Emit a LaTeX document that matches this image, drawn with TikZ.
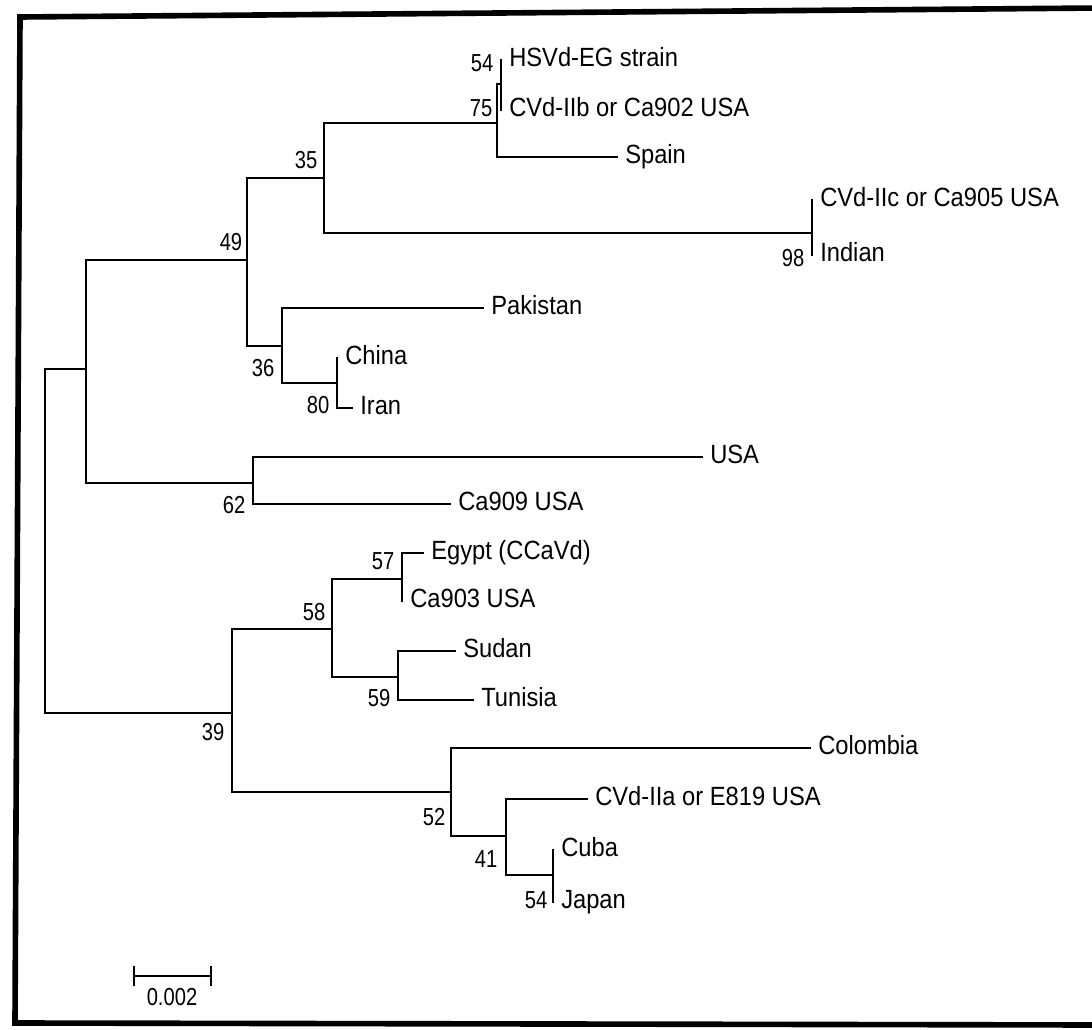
\documentclass[tikz,border=0pt]{standalone}
\usepackage{fontspec}
\setmainfont{Liberation Sans}
\newfontfamily\taxfont[FakeStretch=0.9]{Liberation Sans}
\newfontfamily\bsfont[FakeStretch=0.82]{Liberation Sans}
\usetikzlibrary{positioning}
\tikzset{
  br/.style={draw=black,line width=1.25pt,line cap=rect},
  tx/.style={anchor=west,inner xsep=4.5pt,inner ysep=0pt,text height=1.6ex,text depth=.3ex,font=\taxfont\fontsize{15}{17}\selectfont},
  bs/.style={inner sep=0pt,font=\bsfont\fontsize{14}{16}\selectfont},
  frm/.style={line width=3.2pt,line join=miter},
}

\begin{document}
\begin{tikzpicture}[x=0.02cm,y=-0.02cm]
\useasboundingbox (0,0) rectangle (1092,1030);
\draw[frm] (1100,8) -- (20,17) -- (15,1023) -- (1100,1025);
% inner nodes of the tree
\coordinate (root) at (45,541);
\coordinate (nA) at (86,369);
\coordinate (n49) at (247,260);
\coordinate (n35) at (324,178);
\coordinate (n75) at (497,123);
\coordinate (n54a) at (501,84);
\coordinate (n98) at (812,233);
\coordinate (n36) at (282,346);
\coordinate (n80) at (337,383);
\coordinate (n62) at (253,483);
\coordinate (n39) at (232,713);
\coordinate (n58) at (332,629);
\coordinate (n57) at (402,579);
\coordinate (n59) at (398,677);
\coordinate (n52) at (451,792);
\coordinate (n41) at (506,836);
\coordinate (n54b) at (553,875);
% taxa
\node[tx] (hsvd) at (501,60) {HSVd-EG strain};
\node[tx] (cvdiib) at (501,110) {CVd-IIb or Ca902 USA};
\node[tx] (spain) at (617,157) {Spain};
\node[tx] (cvdiic) at (812,200) {CVd-IIc or Ca905 USA};
\node[tx] (indian) at (812,255) {Indian};
\node[tx] (pakistan) at (483,308) {Pakistan};
\node[tx] (china) at (337,358) {China};
\node[tx] (iran) at (352,408) {Iran};
\node[tx] (usa) at (702,457) {USA};
\node[tx] (ca909) at (450,504) {Ca909 USA};
\node[tx] (egypt) at (423,553) {Egypt (CCaVd)};
\node[tx] (ca903) at (402,601) {Ca903 USA};
\node[tx] (sudan) at (455,651) {Sudan};
\node[tx] (tunisia) at (473,700) {Tunisia};
\node[tx] (colombia) at (810,748) {Colombia};
\node[tx] (cvdiia) at (587,799) {CVd-IIa or E819 USA};
\node[tx] (cuba) at (553,850) {Cuba};
\node[tx] (japan) at (553,902) {Japan};
% branches
\draw[br] (root) |- (nA) (root) |- (n39);
\draw[br] (nA) |- (n49) (nA) |- (n62);
\draw[br] (n49) |- (n35) (n49) |- (n36);
\draw[br] (n35) |- (n75) (n35) |- (n98);
\draw[br] (n75) |- (n54a) (n75) |- (spain.west);
\draw[br] (n54a) |- (hsvd.west) (n54a) |- (cvdiib.west);
\draw[br] (n98) |- (cvdiic.west) (n98) |- (indian.west);
\draw[br] (n36) |- (pakistan.west) (n36) |- (n80);
\draw[br] (n80) |- (china.west) (n80) |- (iran.west);
\draw[br] (n62) |- (usa.west) (n62) |- (ca909.west);
\draw[br] (n39) |- (n58) (n39) |- (n52);
\draw[br] (n58) |- (n57) (n58) |- (n59);
\draw[br] (n57) |- (egypt.west) (n57) |- (ca903.west);
\draw[br] (n59) |- (sudan.west) (n59) |- (tunisia.west);
\draw[br] (n52) |- (colombia.west) (n52) |- (n41);
\draw[br] (n41) |- (cvdiia.west) (n41) |- (n54b);
\draw[br] (n54b) |- (cuba.west) (n54b) |- (japan.west);
% bootstrap values
\node[bs] (b54a) at (482,63) {54};
\node[bs] (b75) at (481,108) {75};
\node[bs] (b35) at (306,160) {35};
\node[bs] (b98) at (793,258) {98};
\node[bs] (b49) at (231,242) {49};
\node[bs] (b36) at (263,368) {36};
\node[bs] (b80) at (318,405) {80};
\node[bs] (b62) at (234,505) {62};
\node[bs] (b57) at (383,561) {57};
\node[bs] (b58) at (314,612) {58};
\node[bs] (b59) at (379,698) {59};
\node[bs] (b39) at (213,732) {39};
\node[bs] (b52) at (434,817) {52};
\node[bs] (b41) at (486,859) {41};
\node[bs] (b54b) at (536,900) {54};
% scale bar
\coordinate (sl) at (134,976);
\coordinate (sr) at (211,976);
\coordinate (smid) at (172,976);
\draw[br] (sl) -- (sr) ([yshift=5pt]sl) -- ([yshift=-5pt]sl) ([yshift=5pt]sr) -- ([yshift=-5pt]sr);
\node[bs,below=7pt of smid] (slab) {0.002};
\end{tikzpicture}
\end{document}
